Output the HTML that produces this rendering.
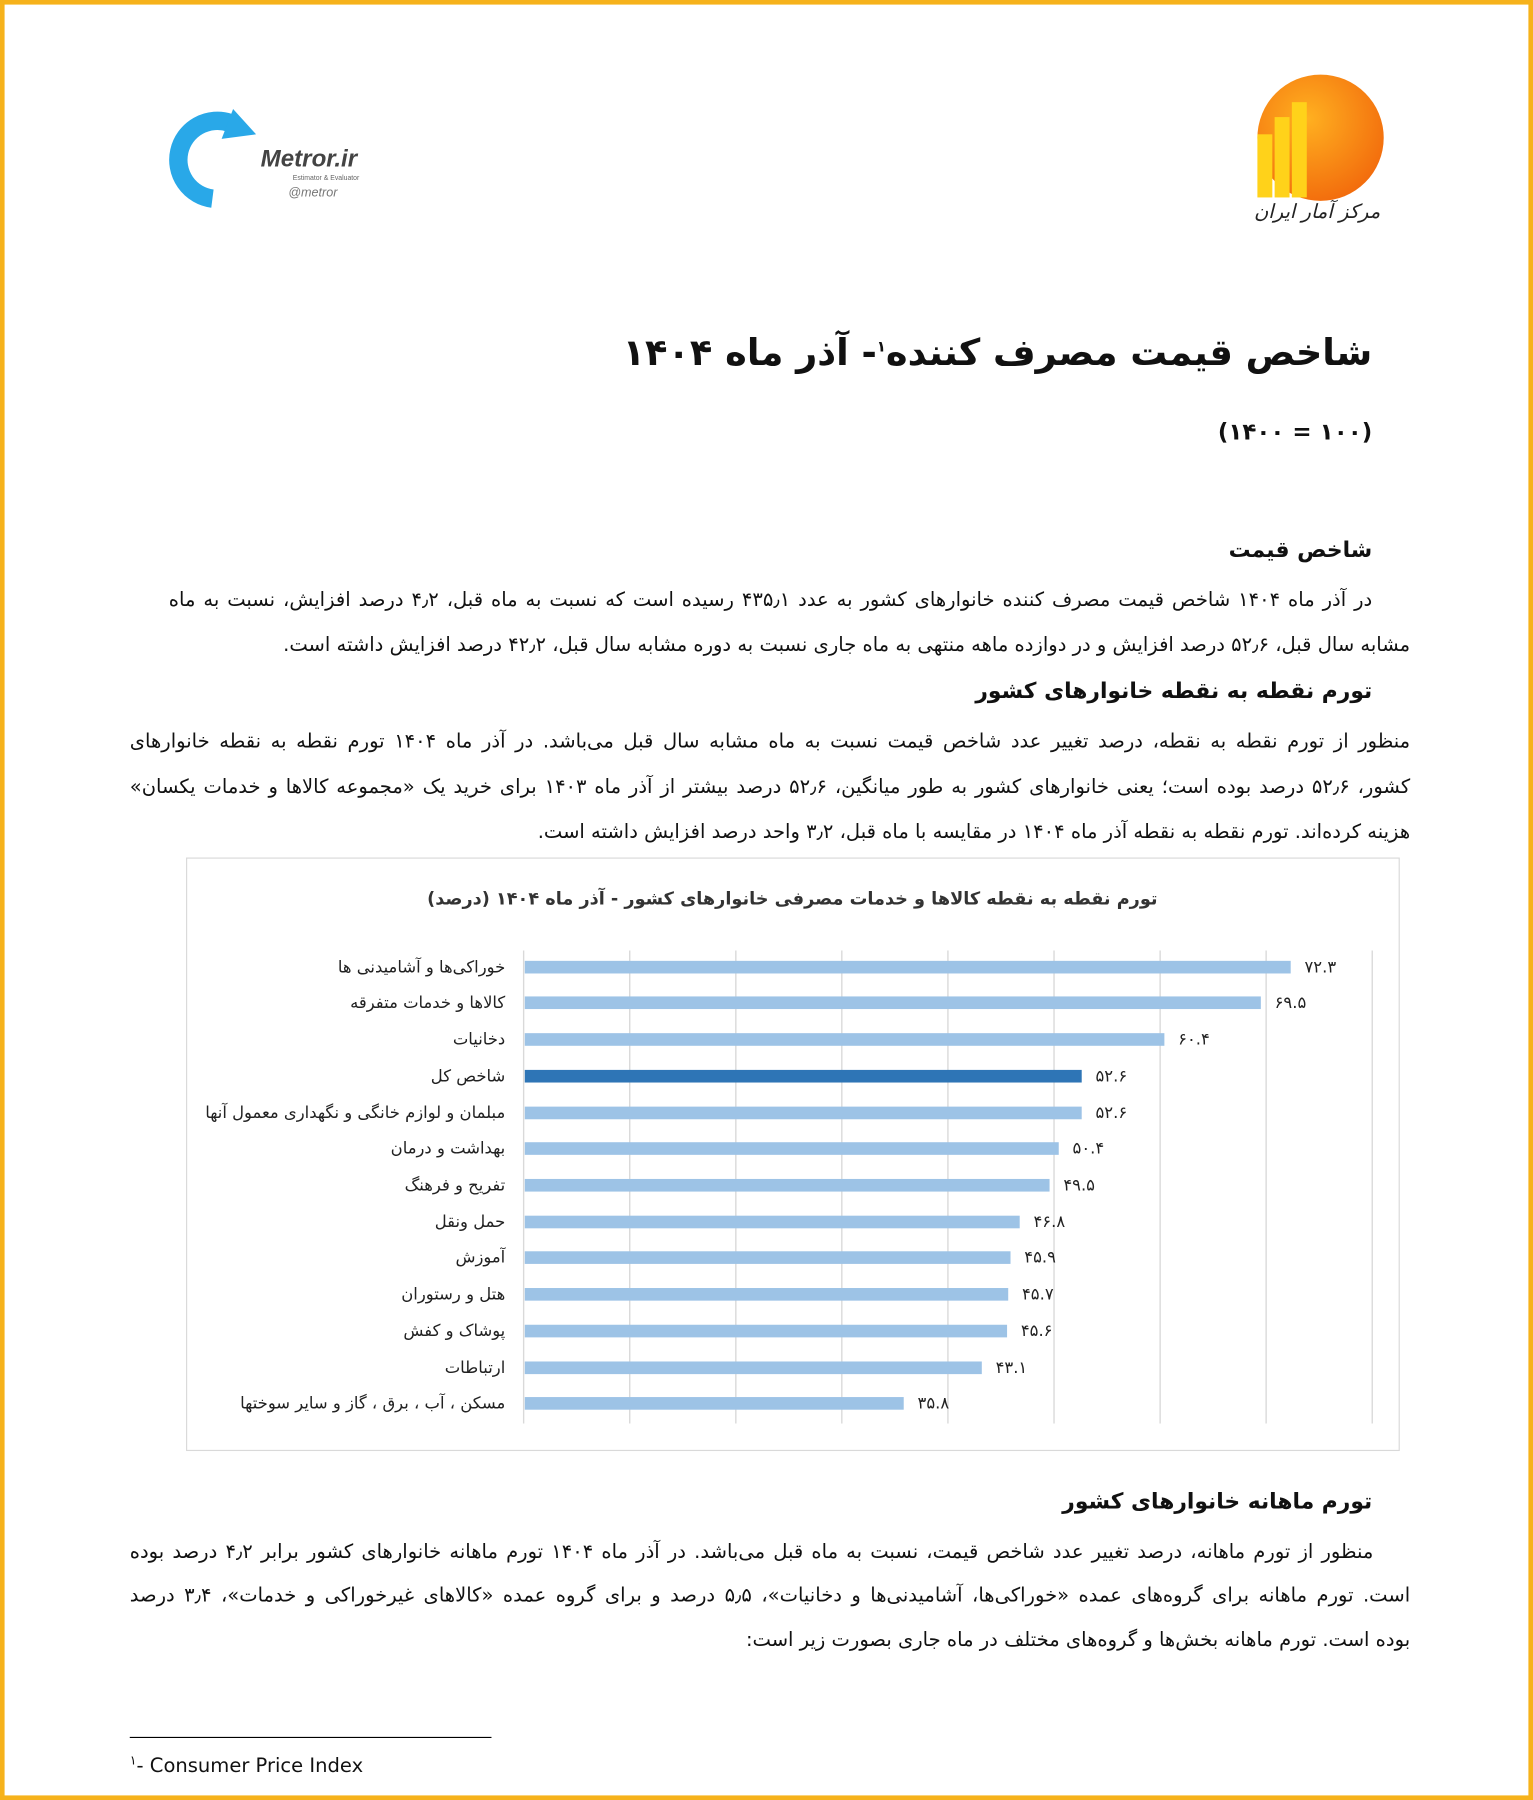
<!DOCTYPE html>
<html><head><meta charset="utf-8">
<style>
html,body{margin:0;padding:0;width:1533px;height:1800px;overflow:hidden;background:#fff}
#w{position:absolute;left:0;top:0;width:1335px;height:1568px;transform:scale(1.14831,1.14796);transform-origin:0 0;font-family:"DejaVu Sans",sans-serif;color:#111}
.b{position:absolute;left:0;top:0;width:1327px;height:1560px;border:4px solid #f6b21b}
.t{position:absolute;direction:rtl;white-space:nowrap}
.ln{position:absolute;direction:rtl;white-space:nowrap;font-size:17px;text-align:justify;text-align-last:justify;height:24px;line-height:24px}
.h{font-weight:bold;font-size:19px}
</style></head><body><div id="w">
<div class="b"></div>
<svg style="position:absolute;left:145px;top:95px" width="200" height="90">
<path d="M55 12 A34 34 0 1 0 40 78" fill="none" stroke="#29a8e8" stroke-width="16"/>
<polygon points="58,0 78,22 48,26" fill="#29a8e8"/>
<text x="82" y="50" font-family="Liberation Sans" font-style="italic" font-weight="bold" font-size="21" fill="#444">Metror.ir</text>
<text x="110" y="62" font-family="Liberation Sans" font-size="6" fill="#666">Estimator &amp; Evaluator</text>
<text x="106" y="76" font-family="Liberation Sans" font-style="italic" font-size="11" fill="#777">@metror</text>
</svg>
<svg style="position:absolute;left:1085px;top:62px" width="130" height="140">
<defs><radialGradient id="g" cx="0.4" cy="0.35" r="0.7"><stop offset="0" stop-color="#ffb020"/><stop offset="1" stop-color="#f26a0c"/></radialGradient></defs>
<ellipse cx="65" cy="58" rx="55" ry="55" fill="url(#g)"/>
<rect x="10" y="55" width="13" height="55" fill="#ffd21a"/>
<rect x="25" y="40" width="13" height="70" fill="#ffd21a"/>
<rect x="40" y="27" width="13" height="83" fill="#ffd21a"/>
<text x="62" y="128" text-anchor="middle" direction="rtl" font-size="17" font-style="italic" fill="#222">مرکز آمار ایران</text>
</svg>
<div class="t" style="right:140px;top:288px;font-size:32px;font-weight:bold">شاخص قیمت مصرف کننده<sup style="font-size:13px">۱</sup>- آذر ماه ۱۴۰۴</div>
<div class="t" style="right:140px;top:364px;font-size:20px;font-weight:bold">(۱۰۰ = ۱۴۰۰)</div>
<div class="t h" style="right:140px;top:468px">شاخص قیمت</div>
<div class="ln" style="left:147px;width:1048px;top:511px">در آذر ماه ۱۴۰۴ شاخص قیمت مصرف کننده خانوارهای کشور به عدد ۴۳۵٫۱ رسیده است که نسبت به ماه قبل، ۴٫۲ درصد افزایش، نسبت به ماه</div>
<div class="ln" style="right:107px;top:550px;text-align:right;text-align-last:right;width:1100px">مشابه سال قبل، ۵۲٫۶ درصد افزایش و در دوازده ماهه منتهی به ماه جاری نسبت به دوره مشابه سال قبل، ۴۲٫۲ درصد افزایش داشته است.</div>
<div class="t h" style="right:140px;top:591px">تورم نقطه به نقطه خانوارهای کشور</div>
<div class="ln" style="left:113px;width:1115px;top:634px">منظور از تورم نقطه به نقطه، درصد تغییر عدد شاخص قیمت نسبت به ماه مشابه سال قبل می‌باشد. در آذر ماه ۱۴۰۴ تورم نقطه به نقطه خانوارهای</div>
<div class="ln" style="left:113px;width:1115px;top:674px">کشور، ۵۲٫۶ درصد بوده است؛ یعنی خانوارهای کشور به طور میانگین، ۵۲٫۶ درصد بیشتر از آذر ماه ۱۴۰۳ برای خرید یک «مجموعه کالاها و خدمات یکسان»</div>
<div class="ln" style="right:107px;top:713px;text-align:right;text-align-last:right;width:1000px">هزینه کرده‌اند. تورم نقطه به نقطه آذر ماه ۱۴۰۴ در مقایسه با ماه قبل، ۳٫۲ واحد درصد افزایش داشته است.</div>
<svg style="position:absolute;left:0;top:0" width="1335" height="1568">
<rect x="162.5" y="747.5" width="1056" height="516" fill="#fff" stroke="#d9d9d9"/>
<text x="690" y="788" text-anchor="middle" direction="rtl" font-size="15.4" font-weight="bold" fill="#333">تورم نقطه به نقطه کالاها و خدمات مصرفی خانوارهای کشور - آذر ماه ۱۴۰۴ (درصد)</text>
<g stroke="#d9d9d9" stroke-width="1.2">
<line x1="456" y1="828" x2="456" y2="1240"/><line x1="548.4" y1="828" x2="548.4" y2="1240"/><line x1="640.8" y1="828" x2="640.8" y2="1240"/><line x1="733.1" y1="828" x2="733.1" y2="1240"/><line x1="825.5" y1="828" x2="825.5" y2="1240"/><line x1="917.9" y1="828" x2="917.9" y2="1240"/><line x1="1010.3" y1="828" x2="1010.3" y2="1240"/><line x1="1102.6" y1="828" x2="1102.6" y2="1240"/><line x1="1195" y1="828" x2="1195" y2="1240"/>
</g>
<g font-size="14.3" fill="#222">
<rect x="457" y="837" width="667" height="11" fill="#9dc3e6"/><text x="440" y="847" text-anchor="start" direction="rtl">خوراکی‌ها و آشامیدنی ها</text><text x="1136" y="847">۷۲.۳</text>
<rect x="457" y="868" width="641" height="11" fill="#9dc3e6"/><text x="440" y="878" text-anchor="start" direction="rtl">کالاها و خدمات متفرقه</text><text x="1110" y="878">۶۹.۵</text>
<rect x="457" y="900" width="557" height="11" fill="#9dc3e6"/><text x="440" y="910" text-anchor="start" direction="rtl">دخانیات</text><text x="1026" y="910">۶۰.۴</text>
<rect x="457" y="932" width="485" height="11" fill="#2e75b6"/><text x="440" y="942" text-anchor="start" direction="rtl">شاخص کل</text><text x="954" y="942">۵۲.۶</text>
<rect x="457" y="964" width="485" height="11" fill="#9dc3e6"/><text x="440" y="974" text-anchor="start" direction="rtl">مبلمان و لوازم خانگی و نگهداری معمول آنها</text><text x="954" y="974">۵۲.۶</text>
<rect x="457" y="995" width="465" height="11" fill="#9dc3e6"/><text x="440" y="1005" text-anchor="start" direction="rtl">بهداشت و درمان</text><text x="934" y="1005">۵۰.۴</text>
<rect x="457" y="1027" width="457" height="11" fill="#9dc3e6"/><text x="440" y="1037" text-anchor="start" direction="rtl">تفریح و فرهنگ</text><text x="926" y="1037">۴۹.۵</text>
<rect x="457" y="1059" width="431" height="11" fill="#9dc3e6"/><text x="440" y="1069" text-anchor="start" direction="rtl">حمل ونقل</text><text x="900" y="1069">۴۶.۸</text>
<rect x="457" y="1090" width="423" height="11" fill="#9dc3e6"/><text x="440" y="1100" text-anchor="start" direction="rtl">آموزش</text><text x="892" y="1100">۴۵.۹</text>
<rect x="457" y="1122" width="421" height="11" fill="#9dc3e6"/><text x="440" y="1132" text-anchor="start" direction="rtl">هتل و رستوران</text><text x="890" y="1132">۴۵.۷</text>
<rect x="457" y="1154" width="420" height="11" fill="#9dc3e6"/><text x="440" y="1164" text-anchor="start" direction="rtl">پوشاک و کفش</text><text x="889" y="1164">۴۵.۶</text>
<rect x="457" y="1186" width="398" height="11" fill="#9dc3e6"/><text x="440" y="1196" text-anchor="start" direction="rtl">ارتباطات</text><text x="867" y="1196">۴۳.۱</text>
<rect x="457" y="1217" width="330" height="11" fill="#9dc3e6"/><text x="440" y="1227" text-anchor="start" direction="rtl">مسکن ، آب ، برق ، گاز و سایر سوختها</text><text x="799" y="1227">۳۵.۸</text>
</g>
<line x1="113" y1="1513.5" x2="428" y2="1513.5" stroke="#000"/>
</svg>
<div class="t h" style="right:140px;top:1297px">تورم ماهانه خانوارهای کشور</div>
<div class="ln" style="left:113px;width:1083px;top:1340px">منظور از تورم ماهانه، درصد تغییر عدد شاخص قیمت، نسبت به ماه قبل می‌باشد. در آذر ماه ۱۴۰۴ تورم ماهانه خانوارهای کشور برابر ۴٫۲ درصد بوده</div>
<div class="ln" style="left:113px;width:1115px;top:1378px">است. تورم ماهانه برای گروه‌های عمده «خوراکی‌ها، آشامیدنی‌ها و دخانیات»، ۵٫۵ درصد و برای گروه عمده «کالاهای غیرخوراکی و خدمات»، ۳٫۴ درصد</div>
<div class="ln" style="right:107px;top:1417px;text-align:right;text-align-last:right;width:900px">بوده است. تورم ماهانه بخش‌ها و گروه‌های مختلف در ماه جاری بصورت زیر است:</div>
<div style="position:absolute;left:113px;top:1527px;font-family:'DejaVu Sans',sans-serif;font-size:17px;white-space:nowrap"><sup style="font-size:11px">۱</sup>- Consumer Price Index</div>
</div></body></html>
